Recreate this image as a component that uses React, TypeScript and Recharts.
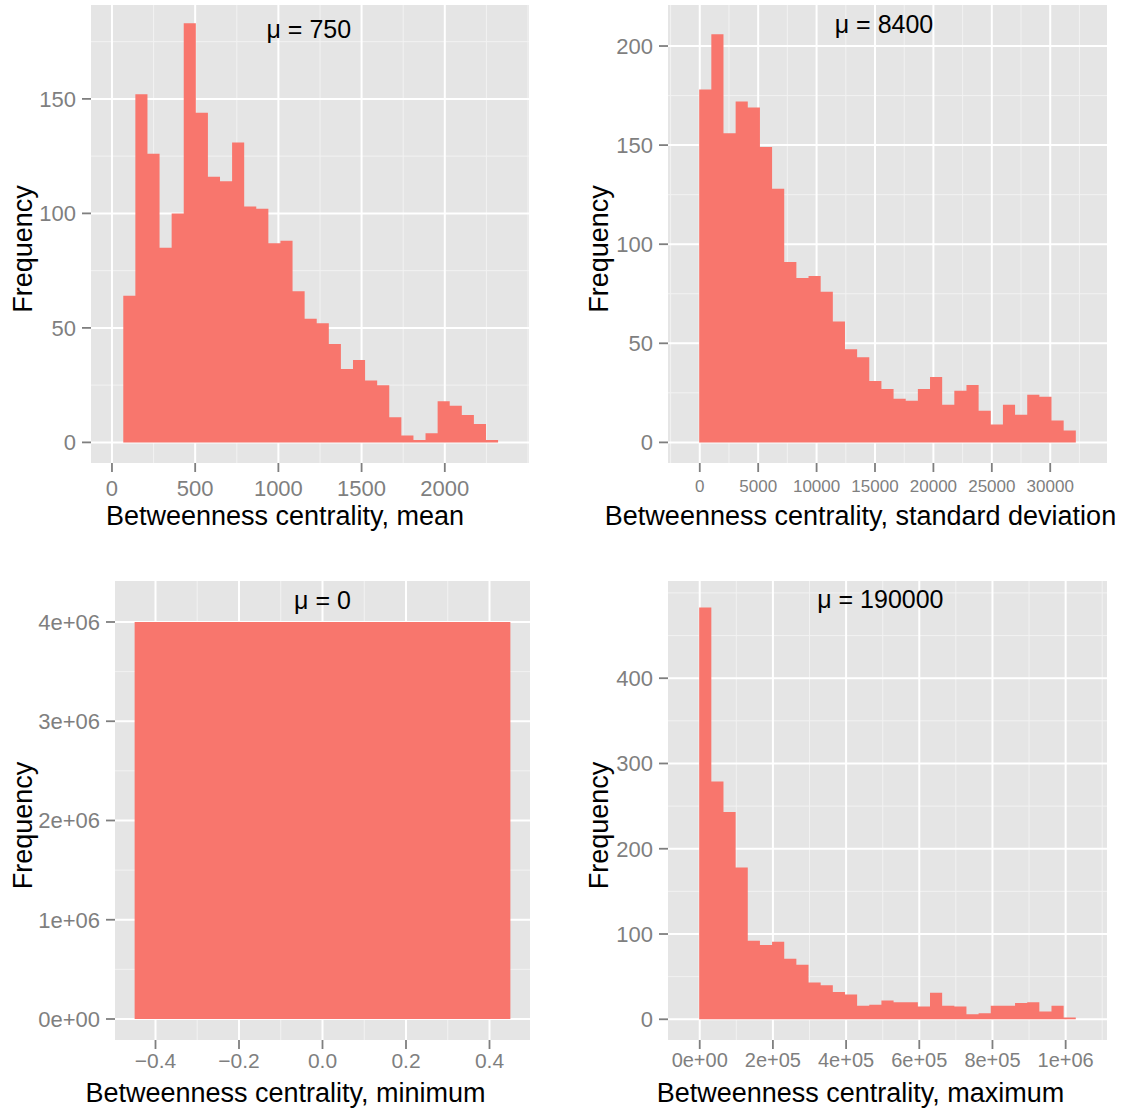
import { ComposedChart, Area, XAxis, YAxis, CartesianGrid, ReferenceDot } from "recharts";

const FILL = "#F8766D";
const PANEL_BG = "#E5E5E5";
const MINOR = "#F2F2F2";
const GREY = "#7F7F7F";
const FONT = "'Liberation Sans', Arial, Helvetica, sans-serif";

// mean
const meanStart = 68;
const meanWidth = 72.65;
const meanCounts = [64, 152, 126, 85, 100, 183, 144, 116, 114, 131, 103, 102, 87, 88, 66, 54, 52, 43, 32, 36, 27, 25, 11, 3, 1, 4, 18, 16, 12, 8, 1];
const meanXTicks = [0, 500, 1000, 1500, 2000];
const meanXMinor = [250, 750, 1250, 1750, 2250, 2500];
const meanYTicks = [0, 50, 100, 150];
const meanYMinor = [25, 75, 125, 175];

// standard deviation
const sdStart = -50;
const sdWidth = 1040;
const sdCounts = [178, 206, 156, 172, 169, 149, 128, 91, 83, 84, 76, 61, 47, 43, 31, 27, 22, 21, 27, 33, 19, 26, 29, 16, 9, 19, 14, 24, 23, 11, 6];
const sdXTicks = [0, 5000, 10000, 15000, 20000, 25000, 30000];
const sdXMinor = [-2500, 2500, 7500, 12500, 17500, 22500, 27500, 32500];
const sdYTicks = [0, 50, 100, 150, 200];
const sdYMinor = [25, 75, 125, 175];

// minimum
const minStart = -0.45;
const minWidth = 0.9;
const minCounts = [4000000];
const minXTicks = [-0.4, -0.2, 0, 0.2, 0.4];
const minXMinor = [-0.3, -0.1, 0.1, 0.3];
const minYTicks = [0, 1e6, 2e6, 3e6, 4e6];
const minYMinor = [5e5, 1.5e6, 2.5e6, 3.5e6];

// maximum
const maxStart = -1500;
const maxWidth = 33200;
const maxCounts = [483, 279, 243, 178, 92, 87, 91, 71, 64, 43, 40, 32, 29, 16, 17, 22, 20, 20, 15, 31, 16, 15, 6, 7, 16, 16, 19, 20, 9, 16, 2];
const maxXTicks = [0, 2e5, 4e5, 6e5, 8e5, 1e6];
const maxXMinor = [1e5, 3e5, 5e5, 7e5, 9e5, 1.1e6];
const maxYTicks = [0, 100, 200, 300, 400];
const maxYMinor = [50, 150, 250, 350, 450, 500];

function toSteps(start: number, width: number, counts: number[]) {
  const pts = counts.map((c, i) => ({ x: start + i * width, y: c }));
  pts.push({ x: start + counts.length * width, y: counts[counts.length - 1] });
  return pts;
}

const sci = (v: number) => {
  if (v === 0) return "0e+00";
  const e = Math.floor(Math.log10(Math.abs(v)));
  const m = Math.round(v / 10 ** e);
  return `${m}e+${String(e).padStart(2, "0")}`;
};
const plain = (v: number) => String(v);
const oneDec = (v: number) => (v < 0 ? "\u2212" + Math.abs(v).toFixed(1) : v.toFixed(1));

interface PanelProps {
  left: number;
  top: number;
  width: number;
  height: number;
  axisW: number;
  axisH: number;
  margin: { top: number; right: number };
  data: { x: number; y: number }[];
  xDomain: [number, number];
  yDomain: [number, number];
  xTicks: number[];
  xMinor: number[];
  yTicks: number[];
  yMinor: number[];
  xFmt: (v: number) => string;
  yFmt: (v: number) => string;
  xFont: number;
  xTickMargin: number;
  xLabel: string;
  xLabelDx: number;
  xLabelOffset: number;
  yLabelX: number;
  mu: { x: number; y: number; text: string };
}

function HistPanel(p: PanelProps) {
  return (
    <div style={{ position: "absolute", left: p.left, top: p.top }}>
      <ComposedChart
        width={p.width}
        height={p.height}
        data={p.data}
        margin={{ top: p.margin.top, right: p.margin.right, bottom: 0, left: 0 }}
      >
        <CartesianGrid
          verticalValues={p.xMinor}
          horizontalValues={p.yMinor}
          stroke={MINOR}
          strokeWidth={1}
          fill={PANEL_BG}
          fillOpacity={1}
        />
        <CartesianGrid
          verticalValues={p.xTicks}
          horizontalValues={p.yTicks}
          stroke="#FFFFFF"
          strokeWidth={2}
        />
        <XAxis
          dataKey="x"
          type="number"
          domain={p.xDomain}
          allowDataOverflow
          ticks={p.xTicks}
          interval={0}
          tickFormatter={p.xFmt}
          height={p.axisH}
          axisLine={false}
          tickSize={9}
          tickMargin={p.xTickMargin}
          tickLine={{ stroke: GREY, strokeWidth: 1.8 }}
          tick={{ fill: GREY, fontSize: p.xFont, fontFamily: FONT }}
          label={{
            value: p.xLabel,
            position: "insideBottom",
            offset: p.xLabelOffset,
            dx: p.xLabelDx,
            fill: "#000",
            fontSize: 27,
            fontFamily: FONT,
          }}
        />
        <YAxis
          type="number"
          domain={p.yDomain}
          allowDataOverflow
          ticks={p.yTicks}
          interval={0}
          tickFormatter={p.yFmt}
          width={p.axisW}
          axisLine={false}
          tickSize={9}
          tickMargin={6}
          tickLine={{ stroke: GREY, strokeWidth: 1.8 }}
          tick={{ fill: GREY, fontSize: 22, fontFamily: FONT }}
          label={{
            value: "Frequency",
            angle: -90,
            position: "insideLeft",
            offset: p.yLabelX,
            dy: 15,
            fill: "#000",
            fontSize: 27,
            fontFamily: FONT,
            style: { textAnchor: "middle" },
          }}
        />
        <Area
          type="stepAfter"
          dataKey="y"
          stroke="none"
          fill={FILL}
          fillOpacity={1}
          baseValue={0}
          dot={false}
          activeDot={false}
          isAnimationActive={false}
        />
        <ReferenceDot
          x={p.mu.x}
          y={p.mu.y}
          r={0}
          fill="none"
          stroke="none"
          label={{ value: p.mu.text, position: "center", fill: "#000", fontSize: 25, fontFamily: FONT }}
        />
      </ComposedChart>
    </div>
  );
}

export default function App() {
  return (
    <div style={{ position: "absolute", left: 0, top: 0, width: 1131, height: 1109, background: "#fff" }}>
      <HistPanel
        left={0}
        top={0}
        width={565}
        height={545}
        axisW={91}
        axisH={82}
        margin={{ top: 5, right: 36 }}
        data={toSteps(meanStart, meanWidth, meanCounts)}
        xDomain={[-126, 2506]}
        yDomain={[-9, 191]}
        xTicks={meanXTicks}
        xMinor={meanXMinor}
        yTicks={meanYTicks}
        yMinor={meanYMinor}
        xFmt={plain}
        yFmt={plain}
        xFont={22}
        xTickMargin={8}
        xLabel="Betweenness centrality, mean"
        xLabelDx={-25}
        xLabelOffset={20}
        yLabelX={22}
        mu={{ x: 1183, y: 180.6, text: "\u03bc = 750" }}
      />
      <HistPanel
        left={565}
        top={0}
        width={566}
        height={545}
        axisW={103}
        axisH={82}
        margin={{ top: 5, right: 24 }}
        data={toSteps(sdStart, sdWidth, sdCounts)}
        xDomain={[-2720, 34860]}
        yDomain={[-10.4, 220.7]}
        xTicks={sdXTicks}
        xMinor={sdXMinor}
        yTicks={sdYTicks}
        yMinor={sdYMinor}
        xFmt={plain}
        yFmt={plain}
        xFont={17}
        xTickMargin={8}
        xLabel="Betweenness centrality, standard deviation"
        xLabelDx={-27}
        xLabelOffset={20}
        yLabelX={33}
        mu={{ x: 15771, y: 211, text: "\u03bc = 8400" }}
      />
      <HistPanel
        left={0}
        top={545}
        width={565}
        height={564}
        axisW={115}
        axisH={69}
        margin={{ top: 36, right: 35 }}
        data={toSteps(minStart, minWidth, minCounts)}
        xDomain={[-0.497, 0.497]}
        yDomain={[-211600, 4413000]}
        xTicks={minXTicks}
        xMinor={minXMinor}
        yTicks={minYTicks}
        yMinor={minYMinor}
        xFmt={oneDec}
        yFmt={sci}
        xFont={21}
        xTickMargin={4}
        xLabel="Betweenness centrality, minimum"
        xLabelDx={-37}
        xLabelOffset={7}
        yLabelX={22}
        mu={{ x: 0, y: 4220000, text: "\u03bc = 0" }}
      />
      <HistPanel
        left={565}
        top={545}
        width={566}
        height={564}
        axisW={103}
        axisH={69}
        margin={{ top: 36, right: 24 }}
        data={toSteps(maxStart, maxWidth, maxCounts)}
        xDomain={[-86700, 1113000]}
        yDomain={[-24.3, 514]}
        xTicks={maxXTicks}
        xMinor={maxXMinor}
        yTicks={maxYTicks}
        yMinor={maxYMinor}
        xFmt={sci}
        yFmt={plain}
        xFont={20}
        xTickMargin={4}
        xLabel="Betweenness centrality, maximum"
        xLabelDx={-27}
        xLabelOffset={7}
        yLabelX={33}
        mu={{ x: 493600, y: 493, text: "\u03bc = 190000" }}
      />
    </div>
  );
}
